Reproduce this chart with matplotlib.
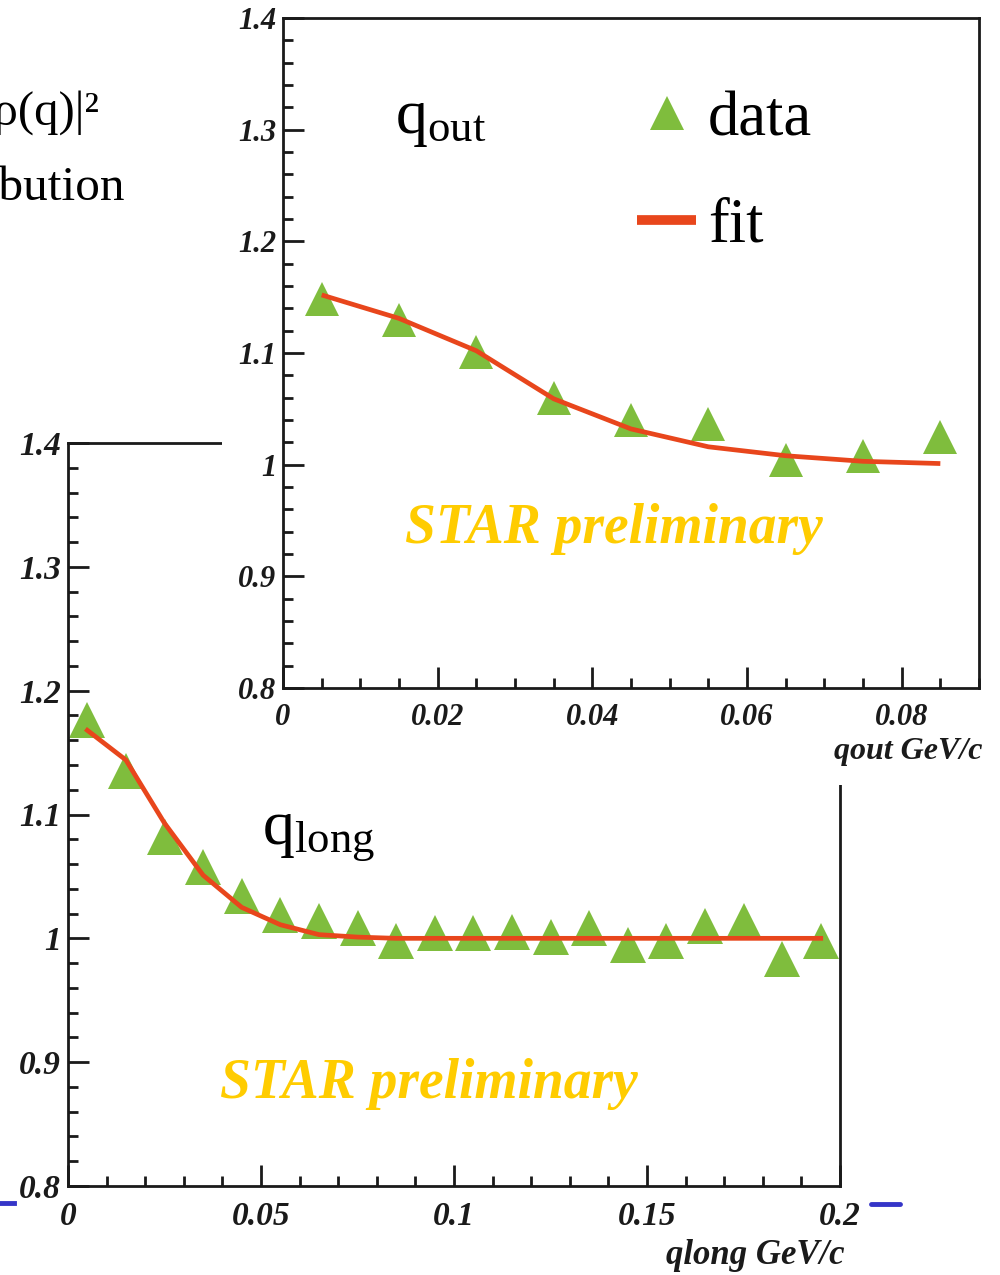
import matplotlib
matplotlib.use("Agg")
import matplotlib.pyplot as plt
from matplotlib.ticker import MultipleLocator, FuncFormatter
from matplotlib.patches import Rectangle
from matplotlib.lines import Line2D
from matplotlib.font_manager import FontProperties

# --- correlation function, q_long projection ---
qlong_x = [0.005, 0.015, 0.025, 0.035, 0.045, 0.055, 0.065, 0.075, 0.085, 0.095,
           0.105, 0.115, 0.125, 0.135, 0.145, 0.155, 0.165, 0.175, 0.185, 0.195]
qlong_data = [1.176, 1.135, 1.082, 1.058, 1.034, 1.019, 1.014, 1.008, 0.998, 1.004,
              1.004, 1.005, 1.001, 1.008, 0.995, 0.998, 1.010, 1.014, 0.983, 0.998]
qlong_fit = [1.168, 1.144, 1.093, 1.051, 1.025, 1.011, 1.003, 1.001, 1.000, 1.000,
             1.000, 1.000, 1.000, 1.000, 1.000, 1.000, 1.000, 1.000, 1.000, 1.000]
qlong_xticks = [0, 0.05, 0.1, 0.15, 0.2]

# --- correlation function, q_out projection ---
qout_x = [0.005, 0.015, 0.025, 0.035, 0.045, 0.055, 0.065, 0.075, 0.085]
qout_data = [1.148, 1.130, 1.101, 1.060, 1.040, 1.036, 1.004, 1.008, 1.025]
qout_fit = [1.152, 1.131, 1.102, 1.059, 1.032, 1.016, 1.008, 1.003, 1.001]
qout_xticks = [0, 0.02, 0.04, 0.06, 0.08]

y_ticks = [0.8, 0.9, 1.0, 1.1, 1.2, 1.3, 1.4]

GREEN = "#7fbd3d"
RED = "#e8461c"
GOLD = "#ffcc00"
BLUE = "#3535c8"
INK = "#1a1a1a"

# axis numbers and titles are bold italic serif
plt.rcParams["font.family"] = ["Liberation Serif", "DejaVu Serif"]
plt.rcParams["font.style"] = "italic"
plt.rcParams["font.weight"] = "bold"
plt.rcParams["mathtext.fontset"] = "custom"
plt.rcParams["mathtext.rm"] = "Liberation Serif:style=normal:weight=normal"
plt.rcParams["mathtext.it"] = "Liberation Serif:style=italic:weight=normal"

ROMAN = dict(family="Liberation Serif", style="normal", weight="normal")

W, H = 1000, 1275
fig = plt.figure(figsize=(W / 100, H / 100), dpi=100)


def box(left, top, right, bottom):
    return [left / W, 1 - bottom / H, (right - left) / W, (bottom - top) / H]


def fx(x):
    return x / W


def fy(y):
    return 1 - y / H


def style(ax, xmaj, xmin, fs):
    for s in ax.spines.values():
        s.set_linewidth(2.0)
        s.set_color(INK)
    ax.xaxis.set_major_locator(MultipleLocator(xmaj))
    ax.xaxis.set_minor_locator(MultipleLocator(xmin))
    ax.yaxis.set_major_locator(MultipleLocator(0.1))
    ax.yaxis.set_minor_locator(MultipleLocator(0.02))
    fmt = FuncFormatter(lambda v, p: "%g" % round(v, 4))
    ax.xaxis.set_major_formatter(fmt)
    ax.yaxis.set_major_formatter(fmt)
    ax.tick_params(which="both", direction="in", top=False, right=False,
                   width=2.0, color=INK, labelcolor=INK, labelsize=fs)
    ax.tick_params(which="major", length=15)
    ax.tick_params(which="minor", length=7.5)
    ax.tick_params(axis="x", pad=11)
    ax.tick_params(axis="y", pad=5)


# lower panel: q_long
ax1 = fig.add_axes(box(68, 443, 840, 1186))
ax1.set_xlim(0, 0.2)
ax1.set_ylim(0.8, 1.4)
style(ax1, 0.05, 0.01, 24)
ax1.set_xticks(qlong_xticks)
ax1.set_yticks(y_ticks)
ax1.plot(qlong_x, qlong_data, linestyle="none", marker="^", ms=26.5,
         color=GREEN, markeredgewidth=0, zorder=2)
ax1.plot(qlong_x, qlong_fit, color=RED, lw=3.4, zorder=3)
fig.text(fx(262), fy(843), r"$\mathrm{q}_{\mathrm{long}}$", fontsize=46,
         ha="left", va="baseline", color="black", zorder=0.5, **ROMAN)

# white backing under the inset panel
cover = Rectangle((fx(222), fy(785)), 1 - fx(222), 785 / H,
                  transform=fig.transFigure, facecolor="white",
                  edgecolor="none", zorder=1)
fig.add_artist(cover)

# upper panel: q_out
ax2 = fig.add_axes(box(283, 18, 979, 688))
ax2.set_zorder(2)
ax2.set_xlim(0, 0.09)
ax2.set_ylim(0.8, 1.4)
style(ax2, 0.02, 0.005, 22)
ax2.set_xticks(qout_xticks)
ax2.set_yticks(y_ticks)
h_data, = ax2.plot(qout_x, qout_data, linestyle="none", marker="^", ms=24,
                   color=GREEN, markeredgewidth=0, zorder=2, label="data")
h_fit, = ax2.plot(qout_x, qout_fit, color=RED, lw=3.4, zorder=3, label="fit",
                  solid_capstyle="butt")

leg = ax2.legend(handles=[h_data, h_fit], loc="upper left",
                 bbox_to_anchor=(fx(637), fy(91)), bbox_transform=fig.transFigure,
                 frameon=False, borderpad=0, borderaxespad=0,
                 handlelength=0.95, handletextpad=0.18, labelspacing=0.78,
                 prop=FontProperties(size=45, **ROMAN))
leg.legend_handles[0].set_markersize(25)
leg.legend_handles[1].set_linewidth(7)

fig.text(fx(395), fy(133), r"$\mathrm{q}_{\mathrm{out}}$", fontsize=46,
         ha="left", va="baseline", color="black", zorder=5, **ROMAN)

# preliminary stamps
fig.text(fx(614), fy(543), "STAR preliminary", fontsize=40, color=GOLD,
         ha="center", va="baseline", zorder=5)
fig.text(fx(429), fy(1098), "STAR preliminary", fontsize=40, color=GOLD,
         ha="center", va="baseline", zorder=5)

# axis titles
fig.text(fx(983), fy(752), "qout GeV/c", fontsize=23, color=INK,
         ha="right", va="center", zorder=5)
fig.text(fx(845), fy(1255), "qlong GeV/c", fontsize=25, color=INK,
         ha="right", va="center", zorder=5)

# slide text running off the left edge
fig.text(fx(99), fy(125), "|\u03c1(q)|\u00b2", fontsize=35, color="black",
         ha="right", va="baseline", **ROMAN)
fig.text(fx(125), fy(200), "distribution", fontsize=35.5, color="black",
         ha="right", va="baseline", **ROMAN)

# slide rule fragments
fig.add_artist(Line2D([fx(0), fx(14)], [fy(1203), fy(1203)], color=BLUE,
                      lw=3.5, transform=fig.transFigure))
fig.add_artist(Line2D([fx(871), fx(900)], [fy(1204), fy(1204)], color=BLUE,
                      lw=3.5, transform=fig.transFigure, solid_capstyle="round"))

fig.savefig("out.png", dpi=100, facecolor="white")
